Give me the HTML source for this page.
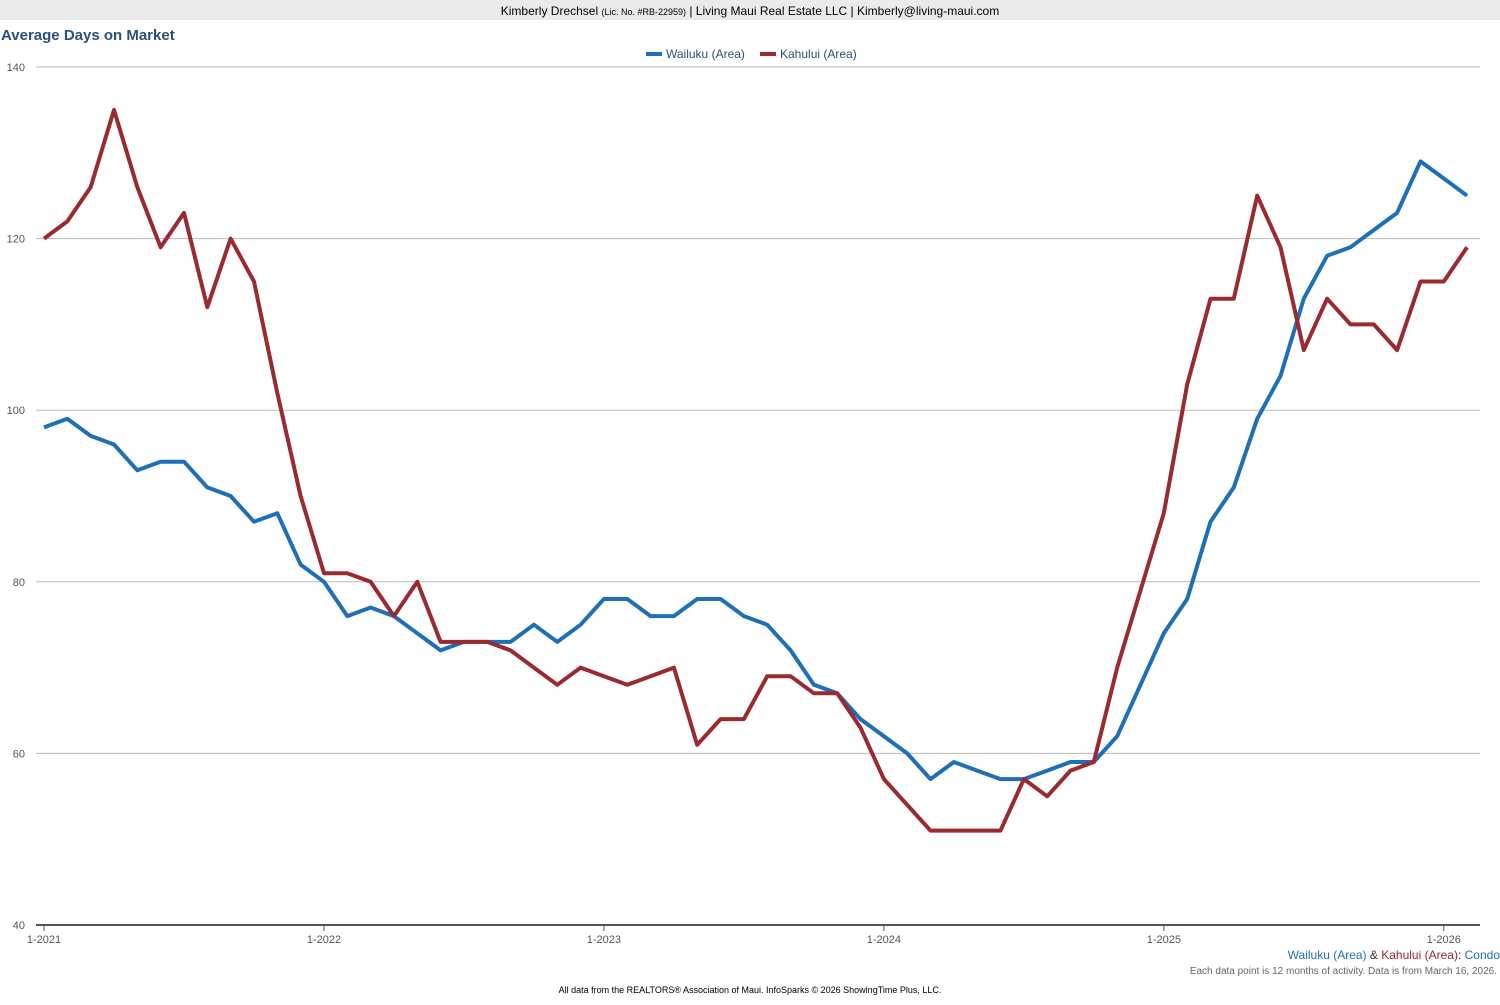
<!DOCTYPE html>
<html><head><meta charset="utf-8"><style>
body{margin:0;background:#fff;width:1500px;height:1000px;overflow:hidden;font-family:"Liberation Sans",Arial,sans-serif}
</style></head><body>
<svg id="s" width="1500" height="1000" xmlns="http://www.w3.org/2000/svg" font-family="Liberation Sans, Arial, sans-serif">
<rect x="0" y="0" width="1500" height="20" fill="#ebebeb"/>
<text x="750" y="15" text-anchor="middle" font-size="12" fill="#000">Kimberly Drechsel <tspan font-size="9">(Lic. No. #RB-22959)</tspan> | Living Maui Real Estate LLC | Kimberly@living-maui.com</text>
<text x="1" y="40" font-size="15" font-weight="bold" fill="#2a4f7a">Average Days on Market</text>
<line x1="646" y1="54" x2="662" y2="54" stroke="#1f6fb8" stroke-width="4"/>
<text x="666" y="58" font-size="12" fill="#2a4f7a">Wailuku (Area)</text>
<line x1="760" y1="54" x2="776" y2="54" stroke="#9b2a2e" stroke-width="4"/>
<text x="780" y="58" font-size="12" fill="#2a4f7a">Kahului (Area)</text>
<g id="grid"></g>
<line x1="36" y1="925" x2="1480" y2="925" stroke="#555" stroke-width="2"/>
<polyline id="b" fill="none" stroke="#1f6fb8" stroke-width="4" stroke-linejoin="round"/>
<polyline id="r" fill="none" stroke="#9b2a2e" stroke-width="4" stroke-linejoin="round"/>
<text x="1500" y="959" text-anchor="end" font-size="12"><tspan fill="#1f6fb8">Wailuku (Area)</tspan><tspan fill="#333"> &amp; </tspan><tspan fill="#9b2a2e">Kahului (Area)</tspan><tspan fill="#333">: </tspan><tspan fill="#1f6fb8">Condo</tspan></text>
<text x="1497" y="974" text-anchor="end" font-size="10" fill="#666">Each data point is 12 months of activity. Data is from March 16, 2026.</text>
<text x="750" y="993" text-anchor="middle" font-size="9" fill="#000">All data from the REALTORS® Association of Maui. InfoSparks © 2026 ShowingTime Plus, LLC.</text>
</svg>
<script>
var NS="http://www.w3.org/2000/svg",g=document.getElementById('grid');
function Y(v){return 925-(v-40)*8.58}
function X(i){return 44+i*23.33}
for(var v=40;v<=140;v+=20){var y=Y(v);
if(v>40){var l=document.createElementNS(NS,'line');l.setAttribute('x1',36);l.setAttribute('x2',1480);l.setAttribute('y1',y);l.setAttribute('y2',y);l.setAttribute('stroke','#bbb');l.setAttribute('stroke-width','1');g.appendChild(l);}
var t=document.createElementNS(NS,'text');t.setAttribute('x',25);t.setAttribute('y',y+4);t.setAttribute('text-anchor','end');t.setAttribute('font-size','11');t.setAttribute('fill','#555');t.textContent=v;g.appendChild(t);}
for(var k=0;k<6;k++){var x=X(k*12);var l=document.createElementNS(NS,'line');l.setAttribute('x1',x);l.setAttribute('x2',x);l.setAttribute('y1',925);l.setAttribute('y2',931);l.setAttribute('stroke','#555');g.appendChild(l);
var t=document.createElementNS(NS,'text');t.setAttribute('x',x);t.setAttribute('y',943);t.setAttribute('text-anchor','middle');t.setAttribute('font-size','11');t.setAttribute('fill','#555');t.textContent='1-'+(2021+k);g.appendChild(t);}
var b=[98,99,97,96,93,94,94,91,90,87,88,82,80,76,77,76,74,72,73,73,73,75,73,75,78,78,76,76,78,78,76,75,72,68,67,64,62,60,57,59,58,57,57,58,59,59,62,68,74,78,87,91,99,104,113,118,119,121,123,129,127,125];
var r=[120,122,126,135,126,119,123,112,120,115,102,90,81,81,80,76,80,73,73,73,72,70,68,70,69,68,69,70,61,64,64,69,69,67,67,63,57,54,51,51,51,51,57,55,58,59,70,79,88,103,113,113,125,119,107,113,110,110,107,115,115,119];
function pts(a){return a.map(function(v,i){return X(i).toFixed(1)+','+Y(v).toFixed(1)}).join(' ')}
document.getElementById('b').setAttribute('points',pts(b));
document.getElementById('r').setAttribute('points',pts(r));
</script>
</body></html>
